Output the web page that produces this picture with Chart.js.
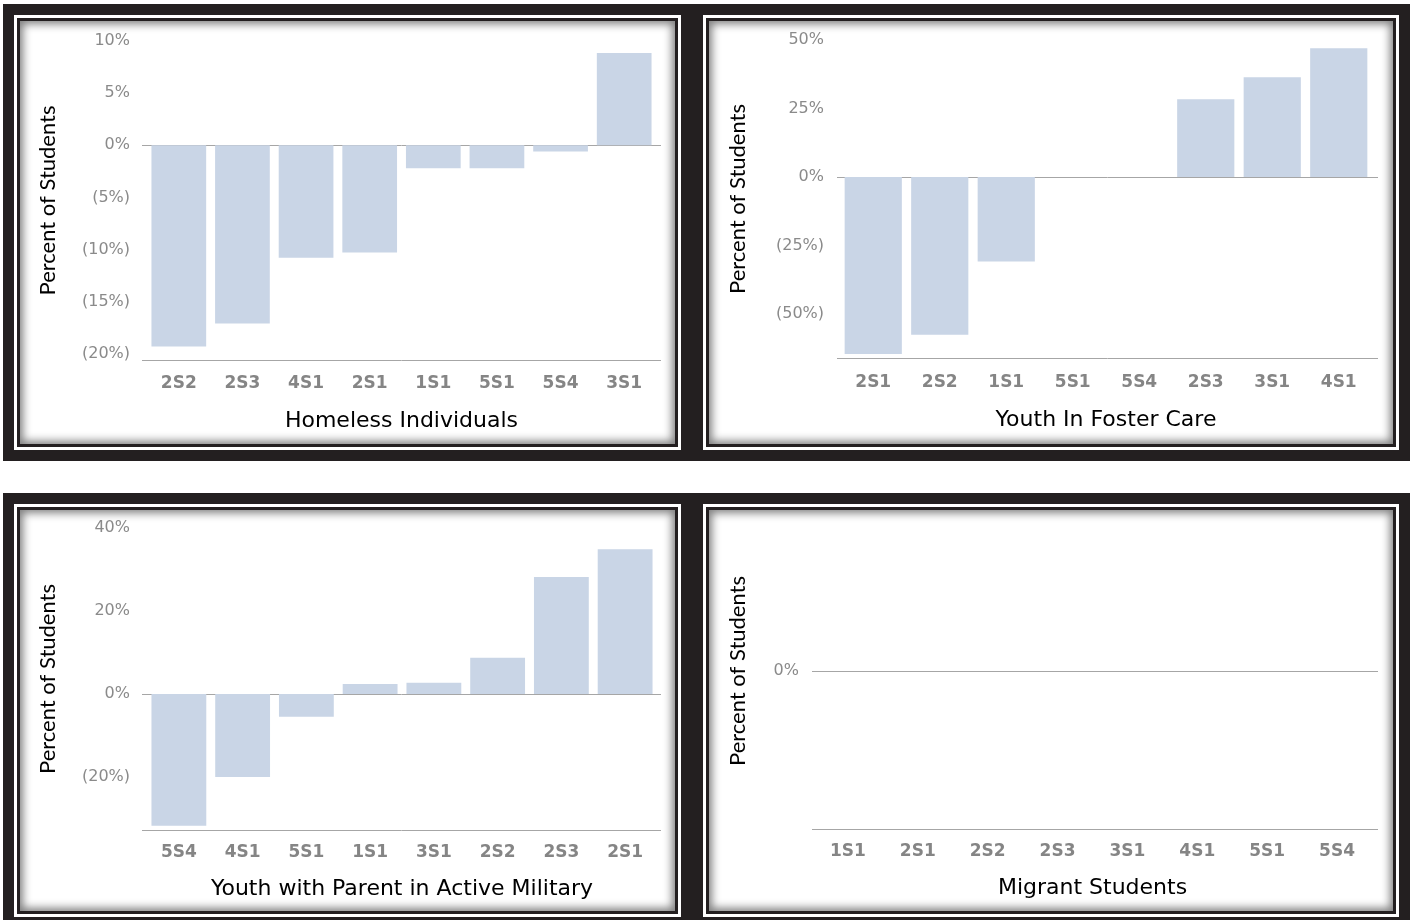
<!DOCTYPE html>
<html>
<head>
<meta charset="utf-8">
<title>Percent of Students by group</title>
<script src="https://cdn.jsdelivr.net/npm/chart.js@4.4.1/dist/chart.umd.min.js"></script>
<style>
  body { margin: 0; width: 1411px; height: 920px; background: #fff; position: relative; overflow: hidden; }
  .frame { position: absolute; box-sizing: border-box; border: 11px solid #231f20; padding: 3px; }
  .inner { width: 100%; height: 100%; box-sizing: border-box; border: 3px solid #231f20;
           box-shadow: inset 0 0 9px 3px rgba(0,0,0,0.5); background: #fff; }
  canvas { position: absolute; }
</style>
</head>
<body>
<div class="frame" style="left:3px;top:4px;width:689px;height:457px"><div class="inner"></div></div>
<div class="frame" style="left:692px;top:4px;width:718px;height:457px"><div class="inner"></div></div>
<div class="frame" style="left:3px;top:493px;width:689px;height:435px"><div class="inner"></div></div>
<div class="frame" style="left:692px;top:493px;width:718px;height:435px"><div class="inner"></div></div>

<canvas id="homeless"></canvas>
<canvas id="foster"></canvas>
<canvas id="military"></canvas>
<canvas id="migrant"></canvas>

<script>
// data (percent)
const homelessLabels = ['2S2', '2S3', '4S1', '2S1', '1S1', '5S1', '5S4', '3S1'];
const homelessValues = [-19.3, -17.1, -10.8, -10.3, -2.2, -2.2, -0.6, 8.85];
const homelessTicks = [-20, -15, -10, -5, 0, 5, 10];
const homelessRange = [-20.6, 10];

const fosterLabels = ['2S1', '2S2', '1S1', '5S1', '5S4', '2S3', '3S1', '4S1'];
const fosterValues = [-64.5, -57.5, -30.8, 0, 0, 28.4, 36.4, 47.0];
const fosterTicks = [-50, -25, 0, 25, 50];
const fosterRange = [-66, 50];

const militaryLabels = ['5S4', '4S1', '5S1', '1S1', '3S1', '2S2', '2S3', '2S1'];
const militaryValues = [-31.8, -20.0, -5.5, 2.4, 2.7, 8.7, 28.2, 34.9];
const militaryTicks = [-20, 0, 20, 40];
const militaryRange = [-32.8, 40];

const migrantLabels = ['1S1', '2S1', '2S2', '2S3', '3S1', '4S1', '5S1', '5S4'];
const migrantValues = [0, 0, 0, 0, 0, 0, 0, 0];
const migrantTicks = [0];
const migrantRange = [-1, 1];

const BAR = '#c9d5e6';
const LINE = '#a6a6a6';

function pct(v) {
  return v < 0 ? '(' + Math.abs(v) + '%)' : v + '%';
}

// zero line and bottom axis line run a little past the bars, like the original
const axisLines = {
  id: 'axisLines',
  beforeDatasetsDraw(chart, args, opts) {
    const { ctx, chartArea, scales } = chart;
    const x0 = chartArea.left - opts.left;
    const x1 = chartArea.right + opts.right;
    const ys = [Math.round(scales.y.getPixelForValue(0)), Math.round(chartArea.bottom)];
    ctx.save();
    ctx.strokeStyle = LINE;
    ctx.lineWidth = 1;
    ys.forEach(y => {
      ctx.beginPath();
      ctx.moveTo(x0, y + 0.5);
      ctx.lineTo(x1, y + 0.5);
      ctx.stroke();
    });
    ctx.restore();
  }
};

// area = bar area on page, pos = where lines and labels sit on page,
// inner = the white inside of the frame the canvas ends in
function drawPanel(id, inner, area, pos, labels, values, ticks, range, title) {
  // canvas starts 30px above the plot so the tick-label padding never pushes the plot down
  const box = { x: inner.x, y: area.top - 30, w: inner.w, h: inner.bottom - (area.top - 30) };
  const canvas = document.getElementById(id);
  canvas.style.left = box.x + 'px';
  canvas.style.top = box.y + 'px';
  canvas.width = box.w;
  canvas.height = box.h;

  const yTitleSize = 22, xTitleSize = 22, xTickSize = 17;

  new Chart(canvas.getContext('2d'), {
    type: 'bar',
    data: {
      labels: labels,
      datasets: [{
        data: values,
        backgroundColor: BAR,
        borderWidth: 0,
        barPercentage: 0.86,
        categoryPercentage: 1
      }]
    },
    plugins: [axisLines],
    options: {
      responsive: false,
      animation: false,
      layout: {
        padding: { left: 0, bottom: 0, top: area.top - box.y, right: box.x + box.w - area.right }
      },
      plugins: {
        legend: { display: false },
        tooltip: { enabled: false },
        axisLines: { left: area.left - pos.lineLeft, right: pos.lineRight - area.right }
      },
      scales: {
        x: {
          grid: { display: false, drawTicks: false },
          border: { display: false },
          ticks: {
            color: '#858585',
            font: { family: 'DejaVu Sans', size: xTickSize, weight: 'bold' },
            padding: pos.xTickY - area.bottom - xTickSize * 0.6 + 1,
            maxRotation: 0,
            autoSkip: false
          },
          title: {
            display: true,
            text: title,
            color: '#000',
            font: { family: 'DejaVu Sans', size: xTitleSize },
            padding: { top: 0, bottom: box.y + box.h - pos.xTitleY - xTitleSize * 0.6 - 1 }
          },
          afterFit: s => { s.height = box.y + box.h - area.bottom; }
        },
        y: {
          min: range[0],
          max: range[1],
          grid: { display: false, drawTicks: false },
          border: { display: false },
          ticks: {
            color: '#8a8a8a',
            font: { family: 'DejaVu Sans', size: 16 },
            padding: area.left - pos.yTickRight,
            callback: v => pct(v)
          },
          afterBuildTicks: s => { s.ticks = ticks.map(v => ({ value: v })); },
          title: {
            display: true,
            text: 'Percent of Students',
            color: '#000',
            font: { family: 'Lato', size: yTitleSize },
            padding: { top: pos.yTitleX - box.x - yTitleSize * 0.6, bottom: 0 }
          },
          afterFit: s => { s.width = area.left - box.x; }
        }
      }
    }
  });
}

drawPanel('homeless',
  { x: 20, w: 655, bottom: 444 },
  { left: 147, right: 656, top: 41, bottom: 360 },
  { lineLeft: 142, lineRight: 661, yTickRight: 130, yTitleX: 48, xTickY: 383, xTitleY: 420 },
  homelessLabels, homelessValues, homelessTicks, homelessRange, 'Homeless Individuals');

drawPanel('foster',
  { x: 709, w: 684, bottom: 444 },
  { left: 840, right: 1372, top: 40, bottom: 358 },
  { lineLeft: 837, lineRight: 1378, yTickRight: 824, yTitleX: 738, xTickY: 382, xTitleY: 419 },
  fosterLabels, fosterValues, fosterTicks, fosterRange, 'Youth In Foster Care');

drawPanel('military',
  { x: 20, w: 655, bottom: 911 },
  { left: 147, right: 657, top: 528, bottom: 830 },
  { lineLeft: 142, lineRight: 661, yTickRight: 130, yTitleX: 48, xTickY: 852, xTitleY: 888 },
  militaryLabels, militaryValues, militaryTicks, militaryRange, 'Youth with Parent in Active Military');

drawPanel('migrant',
  { x: 709, w: 684, bottom: 911 },
  { left: 813, right: 1372, top: 513, bottom: 829 },
  { lineLeft: 812, lineRight: 1378, yTickRight: 799, yTitleX: 738, xTickY: 851, xTitleY: 887 },
  migrantLabels, migrantValues, migrantTicks, migrantRange, 'Migrant Students');
</script>
</body>
</html>
